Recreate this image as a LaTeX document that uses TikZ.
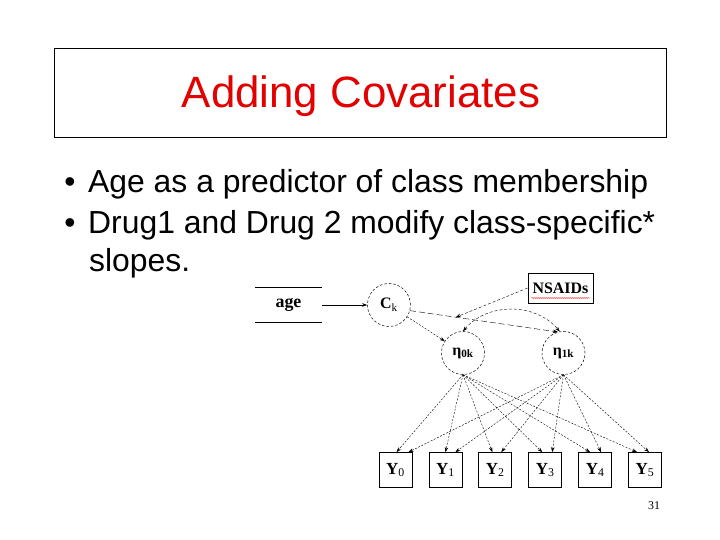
\documentclass[tikz,border=0pt]{standalone}
\usepackage{fontspec}
\setmainfont{Liberation Serif}
\newfontfamily\slidefont{Liberation Sans}
\usetikzlibrary{positioning,arrows.meta,decorations.pathmorphing}
\definecolor{titlered}{RGB}{226,0,0}
\tikzset{
	slidetext/.style = {inner sep=0pt, anchor=base west, font=\slidefont\fontsize{32}{38}\selectfont},
	latent/.style = {circle, draw=black, line width=0.5pt, dash pattern=on 2.5pt off 2pt, minimum size=43bp, inner sep=0pt, font=\fontsize{16}{18}\selectfont\bfseries},
	observed/.style = {draw=black, line width=0.7pt, minimum width=33bp, minimum height=35bp, inner sep=0pt, font=\fontsize{17}{19}\selectfont},
	effect/.style = {-{Stealth[length=5bp,width=3.5bp]}, line width=0.4pt, dash pattern=on 2pt off 1.5pt},
	slope/.style = {effect, dash pattern=on 6pt off 3pt},
	covar/.style = {{Stealth[length=5bp,width=3.5bp]}-{Stealth[length=5bp,width=3.5bp]}, line width=0.4pt, dash pattern=on 3pt off 2pt}
}

\begin{document}
\begin{tikzpicture}[x=1bp, y=1bp]
	\path [fill=white, use as bounding box] (0,0) rectangle (720,540);
	% title
	\node [draw=black, line width=0.8pt, minimum width=612bp, minimum height=89bp, inner sep=0pt] (titlebox) at (360,447.5) {};
	\node [inner sep=0pt, anchor=base, text=titlered, font=\slidefont\fontsize{44}{50}\selectfont] (title) at (361,432) {Adding Covariates};
	% bullets
	\node [slidetext, anchor=base] (b1) at (70,347) {•};
	\node [slidetext] (t1) at (88,347) {Age as a predictor of class membership};
	\node [slidetext, anchor=base] (b2) at (70,306) {•};
	\node [slidetext] (t2) at (88,306) {Drug1 and Drug 2 modify class-specific*};
	\node [slidetext] (t3) at (89,268) {slopes.};
	% model
	\node [minimum width=67bp, minimum height=34bp, inner sep=0pt, font=\fontsize{18}{20}\selectfont\bfseries] (age) at (288.5,235) {age};
	\draw [line width=0.6pt] (age.north west) -- (age.north east) (age.south west) -- (age.south east);
	\node [latent, right=45bp of age] (ck) {C\textsubscript{\mdseries k}};
	\node [draw=black, line width=0.7pt, minimum width=65bp, minimum height=30bp, inner sep=0pt, font=\fontsize{16}{18}\selectfont\bfseries] (nsaids) at (560.5,252) {NSAIDs};
	\draw [red, line width=0.4pt, decorate, decoration={snake, amplitude=0.5bp, segment length=2bp}] ([xshift=-29bp,yshift=-10bp]nsaids.center) -- ([xshift=29bp,yshift=-10bp]nsaids.center);
	\node [latent] (eta0) at (463,187) {η\textsubscript{0k}};
	\node [latent, right=57bp of eta0] (eta1) {η\textsubscript{1k}};
	\node [observed] (y0) at (395.5,70) {\textbf{Y}\textsubscript{0}};
	\node [observed, right=16.2bp of y0] (y1) {\textbf{Y}\textsubscript{1}};
	\node [observed, right=16.2bp of y1] (y2) {\textbf{Y}\textsubscript{2}};
	\node [observed, right=16.2bp of y2] (y3) {\textbf{Y}\textsubscript{3}};
	\node [observed, right=16.2bp of y3] (y4) {\textbf{Y}\textsubscript{4}};
	\node [observed, right=16.2bp of y4] (y5) {\textbf{Y}\textsubscript{5}};
	\node [inner sep=0pt, font=\fontsize{12}{14}\selectfont] (page) at (654,34) {31};
	% effects
	\draw [effect, solid] (age) -- (ck);
	\draw [effect] (ck) -- (eta0);
	\draw [slope] (ck.-15) -- coordinate[pos=0.31] (mod) (eta1.105);
	\draw [effect, dash pattern=on 3pt off 2pt] (nsaids.west) -- (mod);
	\draw [covar] (eta0.90) to [bend left=50] (eta1.100);
	% growth factors to outcomes
	\draw [effect] (eta0.south) -- ([xshift=1bp]y0.north);
	\draw [effect] (eta0.south) -- ([xshift=0bp]y1.north);
	\draw [effect] (eta0.south) -- ([xshift=-3bp]y2.north);
	\draw [effect] (eta0.south) -- ([xshift=-3bp]y3.north);
	\draw [effect] (eta0.south) -- ([xshift=-5bp]y4.north);
	\draw [effect] (eta0.south) -- ([xshift=-8bp]y5.north);
	\draw [effect] (eta1.south) -- ([xshift=13bp]y0.north);
	\draw [effect] (eta1.south) -- ([xshift=10bp]y1.north);
	\draw [effect] (eta1.south) -- ([xshift=6bp]y2.north);
	\draw [effect] (eta1.south) -- ([xshift=7bp]y3.north);
	\draw [effect] (eta1.south) -- ([xshift=6bp]y4.north);
	\draw [effect] (eta1.south) -- ([xshift=4bp]y5.north);
\end{tikzpicture}
\end{document}
